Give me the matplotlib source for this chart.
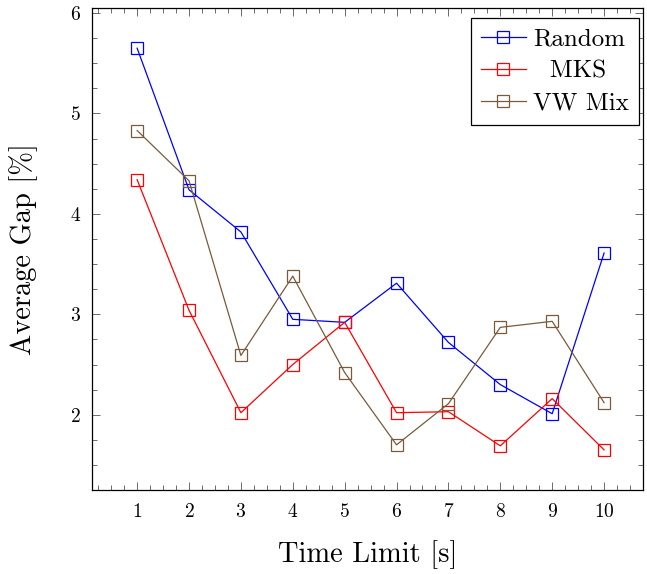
import matplotlib
matplotlib.use("Agg")
import matplotlib.pyplot as plt
from matplotlib.ticker import MultipleLocator

plt.rcParams['font.family'] = ['cmr10', 'DejaVu Serif']
plt.rcParams['axes.formatter.use_mathtext'] = True
plt.rcParams['mathtext.fontset'] = 'cm'

# time limits in seconds
time_limit = [1, 2, 3, 4, 5, 6, 7, 8, 9, 10]

# average gap per method
gap_random = [5.65, 4.24, 3.82, 2.95, 2.92, 3.31, 2.72, 2.30, 2.01, 3.61]
gap_mks = [4.34, 3.04, 2.02, 2.50, 2.92, 2.02, 2.03, 1.69, 2.16, 1.65]
gap_vwmix = [4.83, 4.33, 2.59, 3.38, 2.42, 1.70, 2.11, 2.87, 2.93, 2.12]

# legend text is centred in the original, pad the short one
series = [
    ('Random', gap_random, '#0000ff'),
    ('  MKS', gap_mks, '#ff0000'),
    ('VW Mix', gap_vwmix, '#7a5a3a'),
]

fig = plt.figure(figsize=(6.47, 5.74), dpi=100)
ax = fig.add_axes([0.1422, 0.1463, 0.8516, 0.8397])

for name, vals, col in series:
    ax.plot(time_limit, vals, color=col, lw=0.9, marker='s', markersize=9,
            markerfacecolor='none', markeredgecolor=col, markeredgewidth=0.9,
            label=name)

ax.set_xlim(0.13, 10.75)
ax.set_ylim(1.25, 6.05)
ax.xaxis.set_minor_locator(MultipleLocator(0.25))
ax.yaxis.set_major_locator(MultipleLocator(1))
ax.yaxis.set_minor_locator(MultipleLocator(0.25))
ax.set_xticks(time_limit)
ax.tick_params(which='both', direction='in', top=True, right=True,
               labelsize=14, width=0.6, color='#555555')
ax.tick_params(which='major', length=6)
ax.tick_params(which='minor', length=3.5)
ax.tick_params(axis='x', pad=9)
ax.tick_params(axis='y', pad=8)
for sp in ax.spines.values():
    sp.set_linewidth(0.9)

ax.set_xlabel('Time Limit [s]', fontsize=20.5, labelpad=14)
ax.set_ylabel('Average Gap [%]', fontsize=20.5, labelpad=23)

leg = ax.legend(loc='upper right', bbox_to_anchor=(0.9927, 0.979),
                fontsize=18, frameon=True, fancybox=False,
                edgecolor='black', framealpha=1, borderpad=0.4,
                handlelength=1.8, handletextpad=0.3, labelspacing=0.38,
                borderaxespad=0)
leg.get_frame().set_linewidth(0.9)

fig.savefig('out.png', dpi=100)
